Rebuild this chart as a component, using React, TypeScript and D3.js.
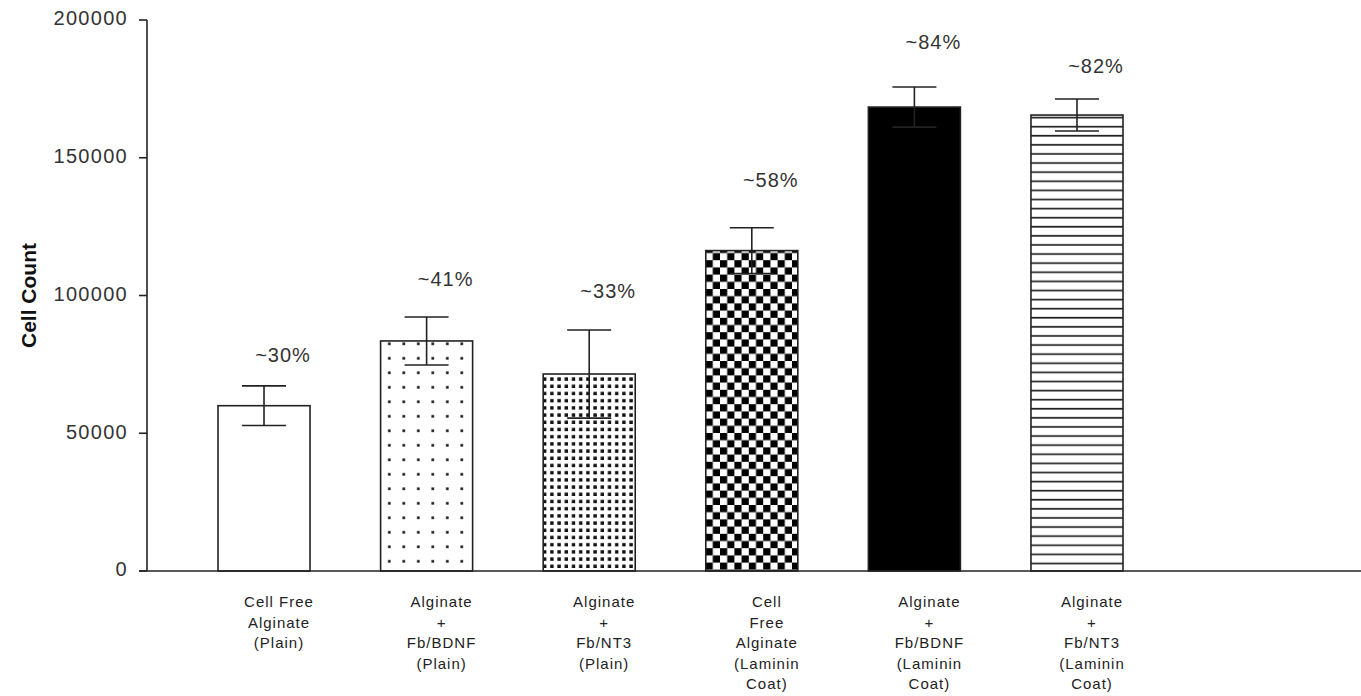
import React from "react";
import * as d3 from "d3";

const categories = [
  ["Cell Free", "Alginate", "(Plain)"],
  ["Alginate", "+", "Fb/BDNF", "(Plain)"],
  ["Alginate", "+", "Fb/NT3", "(Plain)"],
  ["Cell", "Free", "Alginate", "(Laminin", "Coat)"],
  ["Alginate", "+", "Fb/BDNF", "(Laminin", "Coat)"],
  ["Alginate", "+", "Fb/NT3", "(Laminin", "Coat)"],
];
const means = [60000, 83500, 71500, 116300, 168400, 165500];
const errors = [7200, 8700, 16000, 8300, 7300, 5800];
const percentLabels = ["~30%", "~41%", "~33%", "~58%", "~84%", "~82%"];
const labelHeights = [77700, 105300, 100900, 141200, 191300, 182600];
const fills = ["white", "url(#dotsSparse)", "url(#dotsDense)", "url(#checker)", "black", "url(#hlines)"];
const yTicks = [0, 50000, 100000, 150000, 200000];

const W = 1361;
const H = 696;
const font = "'Liberation Sans', Arial, sans-serif";

export default function App() {
  const y = d3.scaleLinear().domain([0, 200000]).range([571, 20]);
  const x = d3
    .scaleBand<number>()
    .domain(d3.range(categories.length))
    .range([218, 1123])
    .paddingInner(0.434)
    .paddingOuter(0);
  const bw = x.bandwidth();
  const capHalf = 22;

  return (
    <svg
      width={W}
      height={H}
      style={{ position: "absolute", left: 0, top: 0, background: "white" }}
      fontFamily={font}
    >
      <defs>
        <pattern id="dotsSparse" width="14.5" height="14.5" patternUnits="userSpaceOnUse" x="5" y="3">
          <rect width="14.5" height="14.5" fill="white" />
          <rect x="6" y="6" width="2.6" height="2.6" fill="#111" />
        </pattern>
        <pattern id="dotsDense" width="7.2" height="7.2" patternUnits="userSpaceOnUse" x="1" y="1">
          <rect width="7.2" height="7.2" fill="white" />
          <rect x="2" y="2" width="3.4" height="3.4" fill="#111" />
        </pattern>
        <pattern id="checker" width="14.4" height="14.4" patternUnits="userSpaceOnUse" x="0" y="1">
          <rect width="14.4" height="14.4" fill="white" />
          <rect x="0" y="0" width="7.2" height="7.2" fill="#000" />
          <rect x="7.2" y="7.2" width="7.2" height="7.2" fill="#000" />
        </pattern>
        <pattern id="hlines" width="10" height="9.1" patternUnits="userSpaceOnUse" x="0" y="4">
          <rect width="10" height="9.1" fill="white" />
          <rect x="0" y="3.5" width="10" height="1.7" fill="#222" />
        </pattern>
      </defs>

      {/* bars with error bars */}
      {means.map((m, i) => {
        const x0 = x(i)!;
        const cx = x0 + bw / 2;
        const top = y(m + errors[i]);
        const bottom = y(m - errors[i]);
        return (
          <g key={i}>
            <rect
              x={x0}
              y={y(m)}
              width={bw}
              height={y(0) - y(m)}
              fill={fills[i]}
              stroke="#222"
              strokeWidth={1.6}
            />
            <line x1={cx} x2={cx} y1={top} y2={bottom} stroke="#222" strokeWidth={1.6} />
            <line x1={cx - capHalf} x2={cx + capHalf} y1={top} y2={top} stroke="#222" strokeWidth={1.6} />
            <line x1={cx - capHalf} x2={cx + capHalf} y1={bottom} y2={bottom} stroke="#222" strokeWidth={1.6} />
            <text
              x={cx + 19}
              y={y(labelHeights[i])}
              textAnchor="middle"
              dominantBaseline="middle"
              fontSize={20}
              letterSpacing={1}
              fill="#333"
            >
              {percentLabels[i]}
            </text>
            <text textAnchor="middle" fontSize={15} letterSpacing={1} fill="#222">
              {categories[i].map((line, j) => (
                <tspan key={j} x={cx + 15} y={607 + j * 20.6}>
                  {line}
                </tspan>
              ))}
            </text>
          </g>
        );
      })}

      {/* y axis */}
      <line x1={147} x2={147} y1={y(200000)} y2={y(0)} stroke="#222" strokeWidth={1.6} />
      {yTicks.map((t) => (
        <g key={t}>
          <line x1={139} x2={147} y1={y(t)} y2={y(t)} stroke="#222" strokeWidth={1.6} />
          <text
            x={128}
            y={y(t)}
            textAnchor="end"
            dominantBaseline="middle"
            fontSize={20}
            letterSpacing={1.3}
            fill="#333"
          >
            {t}
          </text>
        </g>
      ))}

      {/* x axis */}
      <line x1={139} x2={1361} y1={y(0)} y2={y(0)} stroke="#222" strokeWidth={1.6} />

      <text
        transform={`translate(30,${(y(0) + y(200000)) / 2}) rotate(-90)`}
        textAnchor="middle"
        dominantBaseline="middle"
        fontSize={21}
        fontWeight="bold"
        fill="#111"
      >
        Cell Count
      </text>
    </svg>
  );
}
